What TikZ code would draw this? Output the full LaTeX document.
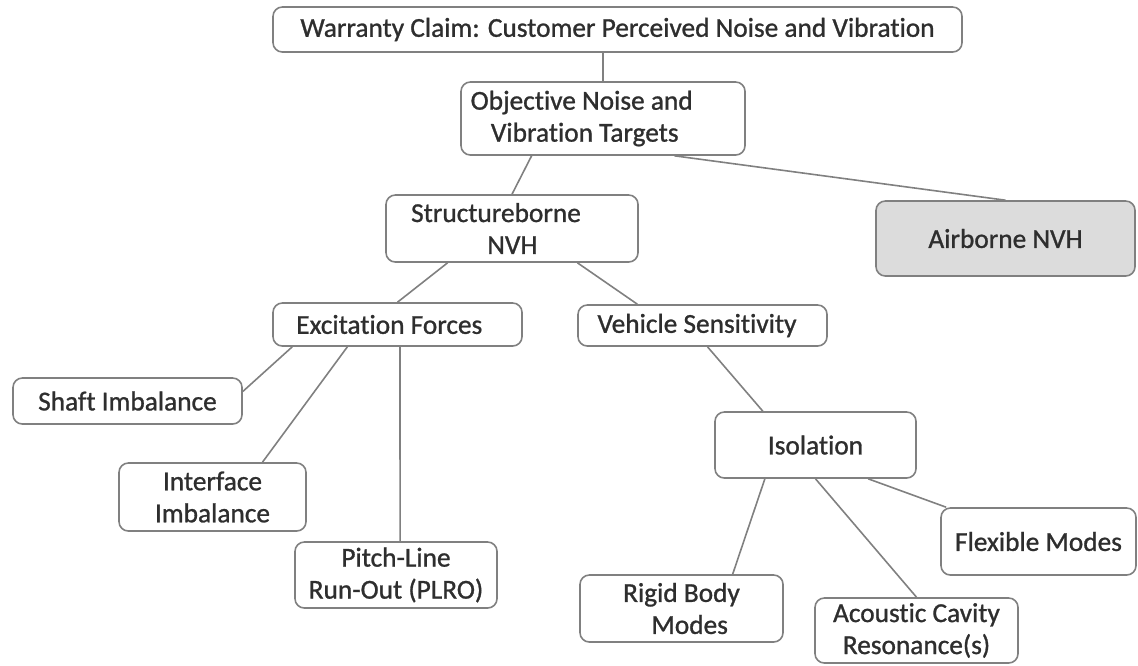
\documentclass[tikz,border=0pt]{standalone}
\usepackage{fontspec}
\setmainfont{Carlito}[Ligatures=NoCommon, RawFeature={embolden=1.0}]
\usetikzlibrary{calc}
\definecolor{edge}{HTML}{808080}
\definecolor{txt}{HTML}{2E2E2E}
\definecolor{airfill}{HTML}{DCDCDC}
\tikzset{
  bx/.style={draw=edge, line width=1.2pt, rounded corners=7pt, fill=white,
    align=center, text=txt, inner sep=0pt,
    font=\fontsize{20.5}{24}\selectfont},
  wh/.style 2 args={minimum width=#1*0.75pt, minimum height=#2*0.75pt},
  lbl/.style={align=center, text=txt, font=\fontsize{20.5}{24}\selectfont},
  conn/.style={draw=edge, line width=1.2pt},
}
\begin{document}
\begin{tikzpicture}[x=0.75pt,y=-0.75pt]
\useasboundingbox (0,0) rectangle (1138,665);
\node[bx,wh={689}{45}] (top) at (617.5,29.5) {Warranty Claim: Customer Perceived Noise and Vibration};
\node[bx,wh={284}{73},label={[lbl,xshift=-16pt]center:Objective Noise and\\ \ Vibration Targets}] (obj) at (603,118.5) {};
\node[bx,wh={252}{67},label={[lbl,xshift=-12pt]center:Structureborne\\ \hspace{1.2em}NVH}] (str) at (512,228.5) {};
\node[bx,wh={259}{75},fill=airfill] (air) at (1005.5,238.5) {Airborne NVH};
\node[bx,wh={249}{43}] (exc) at (397.5,324.5) {Excitation Forces\hspace{0.6em}};
\node[bx,wh={249}{41}] (veh) at (702.5,325.5) {Vehicle Sensitivity\hspace{0.4em}};
\node[bx,wh={229}{46}] (shaft) at (127.5,401) {Shaft Imbalance};
\node[bx,wh={187}{68}] (intf) at (212.5,497) {Interface\\Imbalance};
\node[bx,wh={202}{66}] (pitch) at (396,575) {Pitch-Line\\Run-Out (PLRO)};
\node[bx,wh={201}{66}] (iso) at (815.5,445) {Isolation};
\node[bx,wh={195}{67}] (flex) at (1038.5,541.5) {Flexible Modes};
\node[bx,wh={203}{67}] (rigid) at (681.5,608.5) {Rigid Body\\ \hspace{0.6em}Modes};
\node[bx,wh={203}{65}] (acou) at (916.5,630.5) {Acoustic Cavity\\Resonance(s)};

\draw[conn] (top.south -| obj.north) -- (obj.north);
\draw[conn] ($(obj.south west)!0.25!(obj.south east)$) -- (str.north);
\draw[conn] ($(obj.south west)!0.75!(obj.south east)$) -- (air.north);
\draw[conn] ($(str.south west)!0.246!(str.south east)$) -- (exc.north);
\draw[conn] ($(str.south west)!0.758!(str.south east)$) -- ($(veh.north west)!0.24!(veh.north east)$);
\draw[conn] ($(exc.south west)!0.08!(exc.south east)$) -- ($(shaft.north east)!0.3!(shaft.south east)$);
\draw[conn] ($(exc.south west)!0.3!(exc.south east)$) -- ($(intf.north west)!0.765!(intf.north east)$);
\draw[conn] ($(exc.south west)!0.51!(exc.south east)$) -- ($(pitch.north west)!0.52!(pitch.north east)$);
\draw[conn] ($(veh.south west)!0.52!(veh.south east)$) -- ($(iso.north west)!0.24!(iso.north east)$);
\draw[conn] ($(iso.south west)!0.25!(iso.south east)$) -- ($(rigid.north west)!0.75!(rigid.north east)$);
\draw[conn] (iso.south) -- (acou.north);
\draw[conn] ($(iso.south west)!0.76!(iso.south east)$) -- ($(flex.north west)!0.03!(flex.north east)$);
\end{tikzpicture}
\end{document}
